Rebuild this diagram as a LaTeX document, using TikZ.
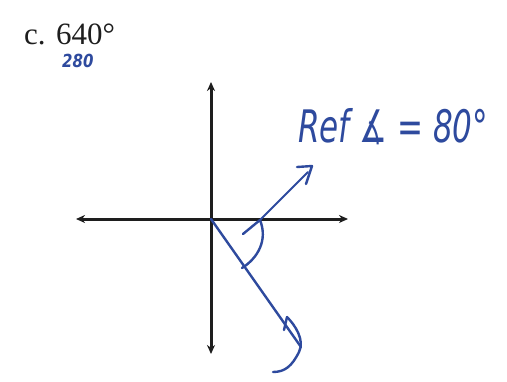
\documentclass[tikz,border=0pt]{standalone}
\usepackage{fontspec}
\setmainfont{Liberation Serif}
\newfontfamily\handfont{DejaVu Sans}
\usetikzlibrary{arrows.meta}
\definecolor{ink}{HTML}{2E4A9E}
\definecolor{axis}{HTML}{1E1E1E}
\tikzset{
  axisline/.style={draw=axis,line width=3pt,{Stealth[length=9pt,width=8pt]}-{Stealth[length=9pt,width=8pt]}},
  pen/.style={draw=ink,line width=2.4pt,line cap=round,line join=round},
  handtext/.style={text=ink,inner sep=0pt},
}
\begin{document}
\begin{tikzpicture}[x=1pt,y=-1pt]
\useasboundingbox (0,0) rectangle (507,381);
\fill[white] (0,0) rectangle (507,381);
% labels
\node[anchor=base west,inner sep=0pt,font=\fontsize{31}{34}\selectfont,text=axis] (title) at (24,44) {c. 640°};
\node[handtext,anchor=base west,font=\handfont\itshape\bfseries\fontsize{15}{17}\selectfont] (twoeighty) at (62,67) {\scalebox{1}[1.2]{280}};
\node[handtext,anchor=base west,font=\handfont\itshape\fontsize{32}{36}\selectfont] (ref) at (298,142) {\scalebox{0.97}[1.4]{Ref ∡ = 80°}};
% axes
\coordinate (O) at (211,219);
\coordinate (top) at (211,82);
\coordinate (bot) at (211,354);
\coordinate (left) at (76,219);
\coordinate (right) at (348,219);
\draw[axisline] (left) -- (right);
\draw[axisline] (bot) -- (top);
% terminal side
\coordinate (term) at (301,347);
\draw[pen] (O) -- (term);
% curly arrow at the end
\coordinate (hookA) at (287,317);
\coordinate (hookB) at (299,352);
\coordinate (hookC) at (273,372);
\draw[pen] (hookA) .. controls (295,325) and (305,340) .. (hookB) .. controls (292,366) and (285,372) .. (hookC);
\draw[pen] (hookA) -- (284,330);
% reference arc
\coordinate (arcS) at (242,268);
\coordinate (arcE) at (260,220);
\draw[pen] (arcS) .. controls (258,258) and (268,240) .. (arcE) -- (243,234);
% reference ray
\coordinate (rayE) at (308,172);
\draw[pen,line width=1.8pt] (arcE) -- (rayE);
\draw[pen] (297,167) -- (312,166) -- (306,184);
\end{tikzpicture}
\end{document}
